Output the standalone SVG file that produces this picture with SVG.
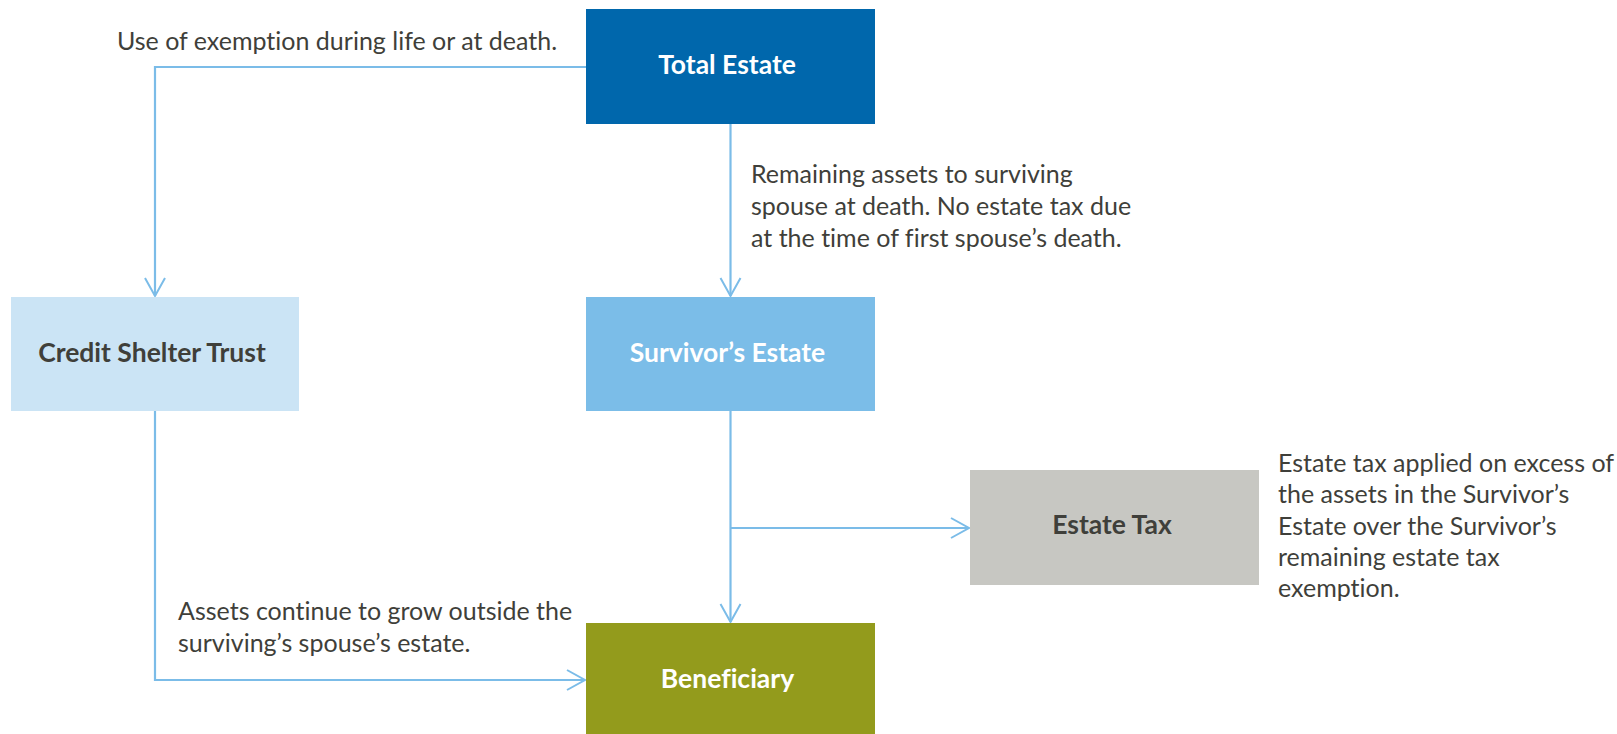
<svg xmlns="http://www.w3.org/2000/svg" width="1617" height="734" viewBox="0 0 1617 734">
<defs>
<marker id="arr" markerUnits="userSpaceOnUse" markerWidth="24" markerHeight="24" viewBox="-20 -12 24 24" refX="0" refY="0" orient="auto">
<path d="M-18,-10 L0,0 L-18,10" fill="none" stroke="#7BBCE8" stroke-width="2"/>
</marker>
</defs>
<style>
.conn{fill:none;stroke:#7BBCE8;stroke-width:2.2}
.lbl{font-family:Lato,"Liberation Sans",sans-serif;font-weight:bold;font-size:26.5px;text-anchor:middle;font-variant-ligatures:none}
.note{font-family:Lato,"Liberation Sans",sans-serif;font-size:25px;fill:#3F3F3A;font-variant-ligatures:none}
.w{fill:#FFFFFF}
.d{fill:#3F3F3A}
</style>
<rect width="1617" height="734" fill="#FFFFFF"/>
<g id="connectors">
<path class="conn" d="M586,67 H155 V296" marker-end="url(#arr)"/>
<path class="conn" d="M730.5,124 V296" marker-end="url(#arr)"/>
<path class="conn" d="M730.5,411 V622" marker-end="url(#arr)"/>
<path class="conn" d="M730.5,528 H969" marker-end="url(#arr)"/>
<path class="conn" d="M155,411 V680 H585" marker-end="url(#arr)"/>
</g>
<g id="total-estate">
<rect x="586" y="9" width="289" height="115" fill="#0067AC"/>
<text class="lbl w" x="727" y="74">Total Estate</text>
</g>
<g id="credit-shelter-trust">
<rect x="11" y="297" width="288" height="114" fill="#CBE4F5"/>
<text class="lbl d" x="152" y="362">Credit Shelter Trust</text>
</g>
<g id="survivors-estate">
<rect x="586" y="297" width="289" height="114" fill="#7BBDE8"/>
<text class="lbl w" x="727.5" y="362">Survivor’s Estate</text>
</g>
<g id="estate-tax">
<rect x="970" y="470" width="289" height="115" fill="#C7C7C2"/>
<text class="lbl d" x="1112" y="534">Estate Tax</text>
</g>
<g id="beneficiary">
<rect x="586" y="623" width="289" height="111" fill="#939B1C"/>
<text class="lbl w" x="727.5" y="688">Beneficiary</text>
</g>
<g id="notes">
<text class="note" x="117" y="50">Use of exemption during life or at death.</text>
<text class="note" x="751" y="183">Remaining assets to surviving</text>
<text class="note" x="751" y="215">spouse at death. No estate tax due</text>
<text class="note" x="751" y="247">at the time of first spouse’s death.</text>
<text class="note" x="1278" y="471.5">Estate tax applied on excess of</text>
<text class="note" x="1278" y="503">the assets in the Survivor’s</text>
<text class="note" x="1278" y="534.5">Estate over the Survivor’s</text>
<text class="note" x="1278" y="566">remaining estate tax</text>
<text class="note" x="1278" y="597">exemption.</text>
<text class="note" x="178" y="620">Assets continue to grow outside the</text>
<text class="note" x="178" y="651.5">surviving’s spouse’s estate.</text>
</g>
</svg>
